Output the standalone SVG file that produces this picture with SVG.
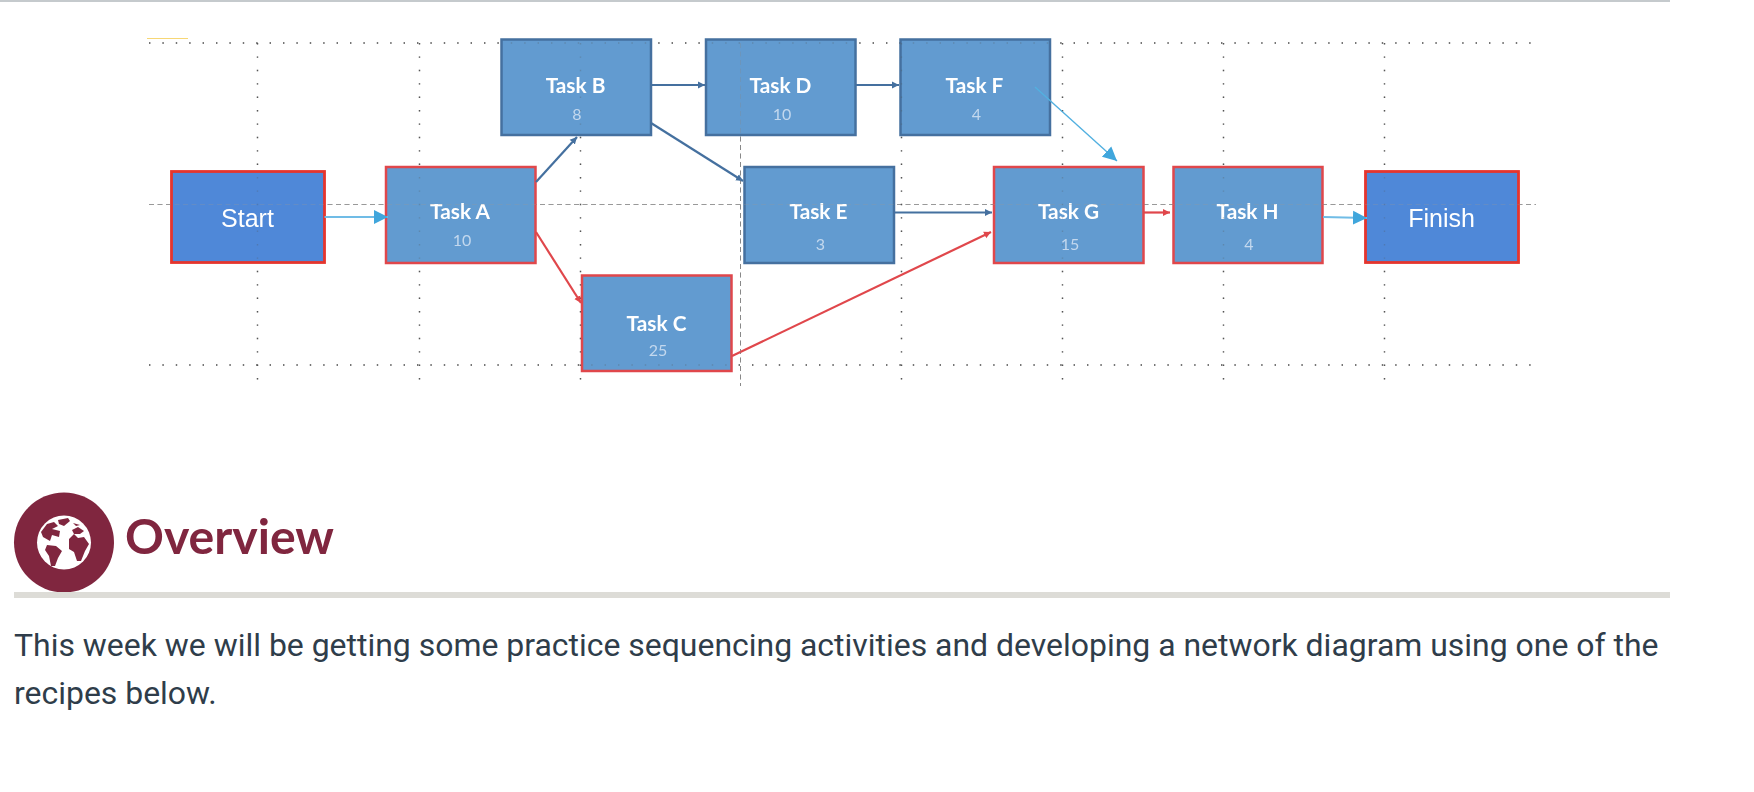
<svg xmlns="http://www.w3.org/2000/svg" width="1754" height="792" viewBox="0 0 1754 792">
<style>
.task{fill:#629bd0;stroke-width:2.5}
.crit{stroke:#e0474c}
.norm{stroke:#44709f}
.term{fill:#4f88d8;stroke:#e5352d;stroke-width:2.8}
.tn{font:700 20.8px Lato,"Liberation Sans",sans-serif;fill:#fff;text-anchor:middle}
.td{font:400 16px Lato,"Liberation Sans",sans-serif;fill:#c3d8ee;text-anchor:middle}
.tt{font:400 25px "Liberation Sans",Arial,sans-serif;fill:#fff;text-anchor:middle}
.dot{stroke:#555;stroke-width:1.400;stroke-dasharray:1.400 12;fill:none}
.c{fill:none;stroke-width:2.200}
.body{font:400 31.950px Roboto,sans-serif;fill:#2f3d4a}
</style>
<defs>
<filter id="soft" x="0" y="0" width="1" height="1" filterUnits="objectBoundingBox"><feGaussianBlur stdDeviation="0.45"/></filter>
<marker id="ab" markerUnits="userSpaceOnUse" markerWidth="8" markerHeight="8" refX="7" refY="4" orient="auto"><path d="M0 0.5L7 4L0 7.5z" fill="#44709f"/></marker>
<marker id="ar" markerUnits="userSpaceOnUse" markerWidth="8" markerHeight="8" refX="7" refY="4" orient="auto"><path d="M0 0.5L7 4L0 7.5z" fill="#e0474c"/></marker>
<marker id="ac" markerUnits="userSpaceOnUse" markerWidth="15" markerHeight="16" refX="14" refY="8" orient="auto"><path d="M0 1L14 8L0 15z" fill="#3fa6dc"/></marker>
<g id="grid-lines">
<line class="dot" x1="149" y1="43" x2="1535" y2="43"/>
<line class="dot" x1="149" y1="365" x2="1535" y2="365"/>
<line x1="149" y1="204.500" x2="1536" y2="204.500" stroke="#999" stroke-width="1" stroke-dasharray="5 3.500"/>
<line class="dot" x1="257.500" y1="43" x2="257.500" y2="382"/>
<line class="dot" x1="419.500" y1="43" x2="419.500" y2="382"/>
<line class="dot" x1="580.500" y1="43" x2="580.500" y2="382"/>
<line x1="740.500" y1="43" x2="740.500" y2="386" stroke="#888" stroke-width="1" stroke-dasharray="5 3.500"/>
<line class="dot" x1="901.500" y1="43" x2="901.500" y2="382"/>
<line class="dot" x1="1062.500" y1="43" x2="1062.500" y2="382"/>
<line class="dot" x1="1223.500" y1="43" x2="1223.500" y2="382"/>
<line class="dot" x1="1384.500" y1="43" x2="1384.500" y2="382"/>
</g>
</defs>
<rect width="1754" height="792" fill="#fff"/>
<rect x="0" y="0" width="1670" height="2" fill="#c5cacd"/>
<g id="network" filter="url(#soft)">
<rect x="147" y="38" width="41" height="1" fill="#f7d774"/>
<use id="grid" href="#grid-lines"/>

<g id="node-start"><rect class="term" x="171.500" y="171.500" width="153" height="91"/><text class="tt" x="247.500" y="227">Start</text></g>
<g id="node-task-a"><rect class="task crit" x="386" y="167" width="149.500" height="96"/><text class="tn" x="460" y="219">Task A</text><text class="td" x="462" y="246">10</text></g>
<g id="node-task-b"><rect class="task norm" x="501.500" y="39.500" width="149.500" height="95.500"/><text class="tn" x="575.500" y="92.500">Task B</text><text class="td" x="577" y="120">8</text></g>
<g id="node-task-c"><rect class="task crit" x="582" y="275.500" width="149.500" height="95.500"/><text class="tn" x="656.500" y="330.500">Task C</text><text class="td" x="658" y="356">25</text></g>
<g id="node-task-d"><rect class="task norm" x="706" y="39.500" width="149.500" height="95.500"/><text class="tn" x="780.500" y="92.500">Task D</text><text class="td" x="782" y="120">10</text></g>
<g id="node-task-e"><rect class="task norm" x="744.500" y="167" width="149.500" height="96"/><text class="tn" x="818.500" y="219">Task E</text><text class="td" x="820.500" y="250">3</text></g>
<g id="node-task-f"><rect class="task norm" x="900.500" y="39.500" width="149.500" height="95.500"/><text class="tn" x="974.500" y="92.500">Task F</text><text class="td" x="976.500" y="120">4</text></g>
<g id="node-task-g"><rect class="task crit" x="994" y="167" width="149.500" height="96"/><text class="tn" x="1068.500" y="219">Task G</text><text class="td" x="1070" y="250">15</text></g>
<g id="node-task-h"><rect class="task crit" x="1173.500" y="167" width="149" height="96"/><text class="tn" x="1247.500" y="219">Task H</text><text class="td" x="1249" y="250">4</text></g>
<g id="node-finish"><rect class="term" x="1365.500" y="171.500" width="153" height="91"/><text class="tt" x="1441.500" y="227">Finish</text></g>

<g id="connectors">
<line class="c" x1="324.500" y1="217" x2="388" y2="217" stroke="#6fbce6" marker-end="url(#ac)"/>
<line class="c" x1="536" y1="182" x2="577" y2="137" stroke="#44709f" marker-end="url(#ab)"/>
<line class="c" x1="536" y1="232" x2="581" y2="303" stroke="#e0474c" marker-end="url(#ar)"/>
<line class="c" x1="651" y1="85" x2="705" y2="85" stroke="#44709f" marker-end="url(#ab)"/>
<line class="c" x1="651" y1="123" x2="743" y2="181" stroke="#44709f" marker-end="url(#ab)"/>
<line class="c" x1="856" y1="85" x2="899" y2="85" stroke="#44709f" marker-end="url(#ab)"/>
<line class="c" x1="895" y1="212.500" x2="992" y2="212.500" stroke="#44709f" marker-end="url(#ab)"/>
<line class="c" x1="732" y1="356" x2="991" y2="232" stroke="#e0474c" marker-end="url(#ar)"/>
<line class="c" x1="1035" y1="87" x2="1117" y2="161" stroke="#52b0e0" style="stroke-width:1.400" marker-end="url(#ac)"/>
<line class="c" x1="1144" y1="212.500" x2="1170" y2="212.500" stroke="#e0474c" marker-end="url(#ar)"/>
<line class="c" x1="1323" y1="217" x2="1367" y2="218" stroke="#6fbce6" marker-end="url(#ac)"/>
</g>
<use href="#grid-lines" opacity="0.28"/>
</g>

<g id="overview-icon" fill="#80263f">
<circle cx="64" cy="542.500" r="50"/>
<circle cx="64" cy="542.500" r="27" fill="#fff"/>
<path d="M41 532L47 524L54 522L58 526L52 529L60 531L59 537L52 535L50 541L43 537z"/>
<path d="M58 520L68 518L70 521L64 526L59 524z"/>
<path d="M47 545L56 546L62 551L58 558L55 566L51 566L49 556L45 550z"/>
<path d="M69 539L74 534L78 538L84 537L89 544L85 551L81 561L77 561L74 552L69 549z"/>
<path d="M72 530L78 527L84 531L80 534L74 534z"/>
<path d="M73 523L80 525L76 526z"/>
</g>
<text x="125" y="554" font-family="Lato,'Open Sans',sans-serif" font-weight="700" font-size="48.200" fill="#80263f">Overview</text>
<rect x="14" y="592" width="1656" height="6" fill="#dddcd7"/>
<text class="body" x="14" y="656">This week we will be getting some practice sequencing activities and developing a network diagram using one of the</text>
<text class="body" x="14" y="704">recipes below.</text>
</svg>
